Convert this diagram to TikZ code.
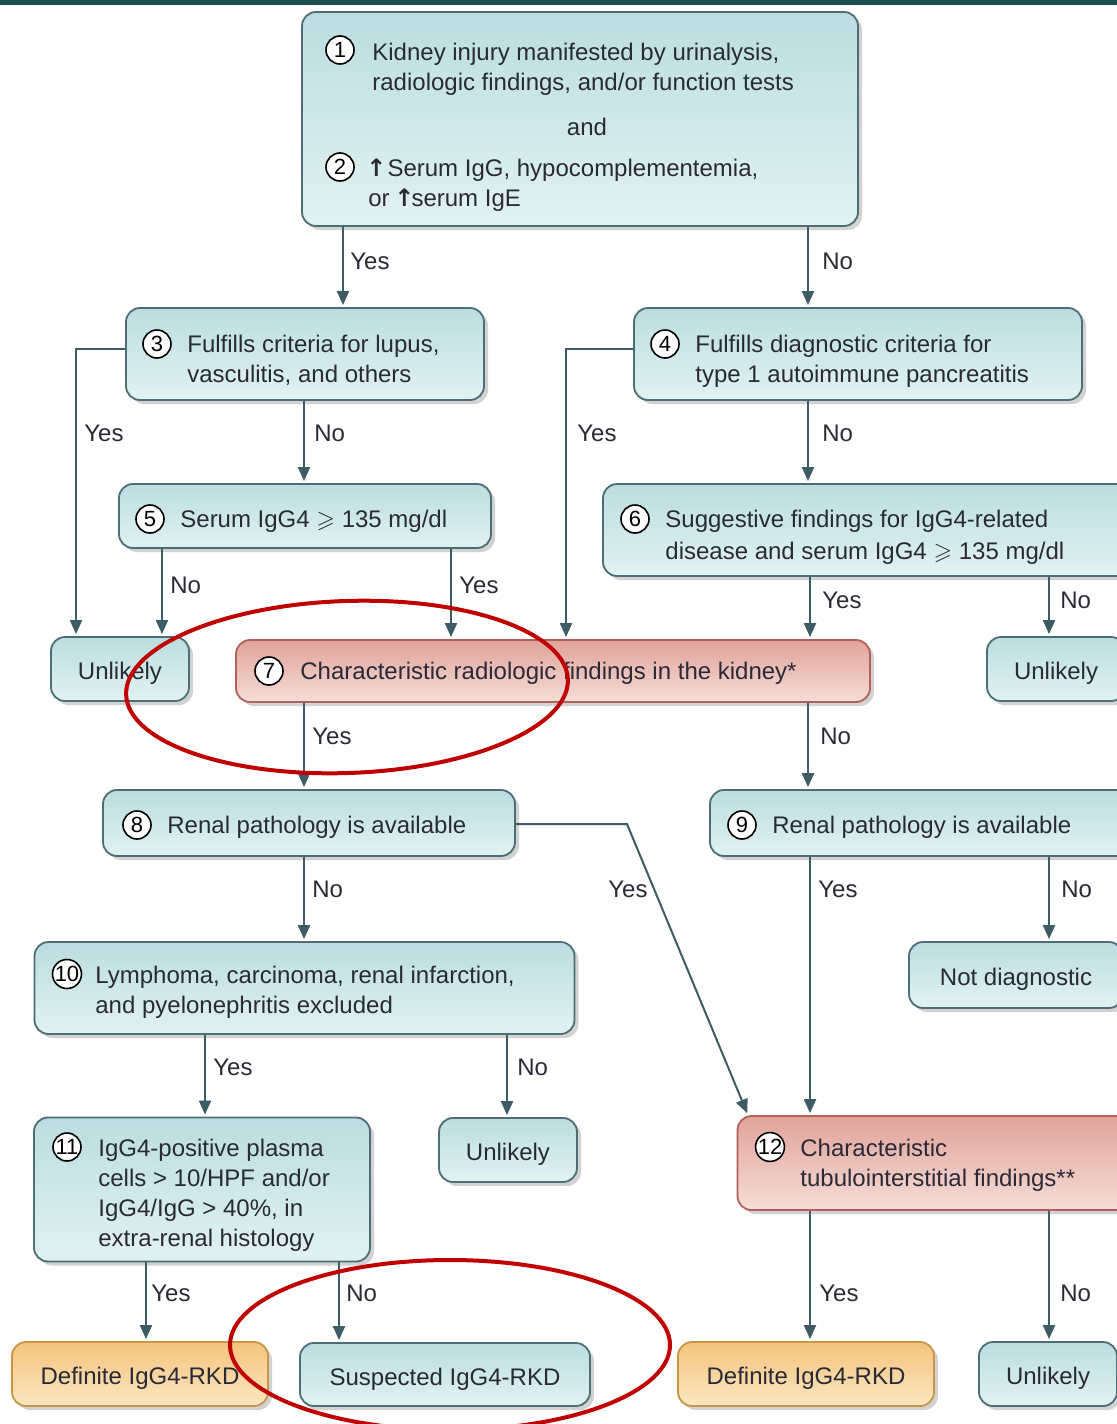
\documentclass[tikz,border=0pt]{standalone}
\usepackage{amssymb}
\usepackage{fontspec}
\setmainfont{Liberation Sans}
\newfontfamily\djv{DejaVu Sans}
\usetikzlibrary{arrows.meta,shadows}
\definecolor{barc}{HTML}{1E4D54}
\definecolor{tealtop}{HTML}{BBDDE0}
\definecolor{tealbot}{HTML}{E2F2F2}
\definecolor{tealline}{HTML}{4D6E77}
\definecolor{redtop}{HTML}{E0A39A}
\definecolor{redbot}{HTML}{F6DDD7}
\definecolor{redline}{HTML}{B0615B}
\definecolor{orgtop}{HTML}{F3C37C}
\definecolor{orgbot}{HTML}{FBE7C1}
\definecolor{orgline}{HTML}{C99548}
\definecolor{arrowc}{HTML}{3E5C66}
\definecolor{txtc}{HTML}{2A2A36}
\definecolor{ovalred}{HTML}{C00000}
\newcommand{\blk}[1]{\begin{tabular}[t]{@{}l@{}}#1\end{tabular}}
\newcommand{\uparr}{{\djv\bfseries\kern-1pt↑\kern-1.5pt}}
\tikzset{
  box/.style={rounded corners=7pt, line width=0.9pt, inner sep=0pt,
    drop shadow={shadow xshift=2pt, shadow yshift=-2pt, opacity=0.35},
    text=txtc, font=\fontsize{12}{15}\selectfont},
  tealbox/.style={box, draw=tealline, top color=tealtop, bottom color=tealbot},
  redbox/.style={box, draw=redline, top color=redtop, bottom color=redbot},
  orgbox/.style={box, draw=orgline, top color=orgtop, bottom color=orgbot},
  single/.style={text height=10.6pt, text depth=0pt},
  num/.style={circle, draw=black, line width=0.8pt, fill=white, minimum size=14pt,
    inner sep=0pt, font=\fontsize{11}{11}\selectfont, text=black},
  tnode/.style={anchor=base west, inner sep=0pt, text=txtc, font=\fontsize{12}{15}\selectfont},
  lab/.style={anchor=west, inner sep=0pt, text=txtc, font=\fontsize{12}{15}\selectfont},
  arr/.style={draw=arrowc, line width=1pt, -{Triangle[length=7pt,width=6pt]}, shorten >=1pt},
  oval/.style={draw=ovalred, line width=2pt}
}
\begin{document}
\begin{tikzpicture}[x=0.5pt,y=-0.5pt]
\useasboundingbox (0,0) rectangle (1117,1424);
\fill[white] (0,0) rectangle (1117,1424);
\fill[barc] (0,0) rectangle (1117,5);

% boxes
\node[tealbox, minimum width=278pt, minimum height=107pt] (b1) at (580,119) {};
\node[tealbox, minimum width=179pt, minimum height=46pt] (b3) at (305,354) {};
\node[tealbox, minimum width=224pt, minimum height=46pt] (b4) at (858,354) {};
\node[tealbox, minimum width=186pt, minimum height=32pt] (b5) at (305,516) {};
\node[tealbox, minimum width=268pt, minimum height=46pt] (b6) at (871,530) {};
\node[tealbox, single, minimum width=69pt, minimum height=32pt] (u1) at (120,669) {Unlikely};
\node[redbox, minimum width=317pt, minimum height=31pt] (b7) at (553,671) {};
\node[tealbox, single, minimum width=69pt, minimum height=32pt] (u2) at (1056,669) {Unlikely};
\node[tealbox, minimum width=206pt, minimum height=33pt] (b8) at (309,823) {};
\node[tealbox, minimum width=215pt, minimum height=33pt] (b9) at (925,823) {};
\node[tealbox, minimum width=270pt, minimum height=46pt] (b10) at (304.5,988) {};
\node[tealbox, single, minimum width=107pt, minimum height=33pt] (nd) at (1016,975) {Not diagnostic};
\node[tealbox, minimum width=168pt, minimum height=72pt] (b11) at (202,1189.5) {};
\node[tealbox, single, minimum width=69pt, minimum height=32pt] (u3) at (508,1150) {Unlikely};
\node[redbox, minimum width=201pt, minimum height=47pt] (b12) at (938.5,1163) {};
\node[orgbox, single, minimum width=128pt, minimum height=32pt] (d1) at (140,1374) {Definite IgG4-RKD};
\node[tealbox, single, minimum width=145pt, minimum height=31.5pt] (s1) at (445,1374.5) {Suspected IgG4-RKD};
\node[orgbox, single, minimum width=128pt, minimum height=32pt] (d2) at (806,1374) {Definite IgG4-RKD};
\node[tealbox, single, minimum width=69pt, minimum height=32pt] (u4) at (1048,1374) {Unlikely};

% texts
\node[num] (c1) at (340,50) {1};
\node[tnode] (t1) at (372,60) {\blk{Kidney injury manifested by urinalysis,\\radiologic findings, and/or function tests}};
\node[tnode, anchor=base] (tand) at (587,135) {and};
\node[num] (c2) at (340,167) {2};
\node[tnode] (t2) at (368,176) {\blk{\uparr\,Serum IgG, hypocomplementemia,\\or \uparr serum IgE}};
\node[num] (c3) at (157,344) {3};
\node[tnode] (t3) at (187,352) {\blk{Fulfills criteria for lupus,\\vasculitis, and others}};
\node[num] (c4) at (665,344) {4};
\node[tnode] (t4) at (695,352) {\blk{Fulfills diagnostic criteria for\\type 1 autoimmune pancreatitis}};
\node[num] (c5) at (150,519) {5};
\node[tnode] (t5) at (180,527) {Serum IgG4 $\geqslant$ 135 mg/dl};
\node[num] (c6) at (635,519) {6};
\node[tnode] (t6) at (665,527) {\blk{Suggestive findings for IgG4-related\\[1pt]disease and serum IgG4 $\geqslant$ 135 mg/dl}};
\node[num] (c7) at (269,671) {7};
\node[tnode] (t7) at (300,679) {Characteristic radiologic findings in the kidney*};
\node[num] (c8) at (137,825) {8};
\node[tnode] (t8) at (167,833) {Renal pathology is available};
\node[num] (c9) at (742,825) {9};
\node[tnode] (t9) at (772,833) {Renal pathology is available};
\node[num] (c10) at (67,974) {10};
\node[tnode] (t10) at (95,983) {\blk{Lymphoma, carcinoma, renal infarction,\\and pyelonephritis excluded}};
\node[num] (c11) at (67,1147) {11};
\node[tnode] (t11) at (98,1156) {\blk{IgG4-positive plasma\\cells > 10/HPF and/or\\IgG4/IgG > 40\%, in\\extra-renal histology}};
\node[num] (c12) at (770,1147) {12};
\node[tnode] (t12) at (800,1156) {\blk{Characteristic\\tubulointerstitial findings**}};

% connectors
\draw[arr] (343,0 |- b1.south) -- (343,0 |- b3.north);
\node[lab] (l1) at (350,261) {Yes};
\draw[arr] (808,0 |- b1.south) -- (808,0 |- b4.north);
\node[lab] (l2) at (822,261) {No};
\draw[arr] (b3.west |- 0,349) -| (76,0 |- u1.north);
\node[lab] (l3) at (84,433) {Yes};
\draw[arr] (304,0 |- b3.south) -- (304,0 |- b5.north);
\node[lab] (l4) at (314,433) {No};
\draw[arr] (b4.west |- 0,349) -| (566,0 |- b7.north);
\node[lab] (l5) at (577,433) {Yes};
\draw[arr] (808,0 |- b4.south) -- (808,0 |- b6.north);
\node[lab] (l6) at (822,433) {No};
\draw[arr] (162,0 |- b5.south) -- (162,0 |- u1.north);
\node[lab] (l7) at (170,585) {No};
\draw[arr] (451,0 |- b5.south) -- (451,0 |- b7.north);
\node[lab] (l8) at (459,585) {Yes};
\draw[arr] (810,0 |- b6.south) -- (810,0 |- b7.north);
\node[lab] (l9) at (822,600) {Yes};
\draw[arr] (1049,0 |- b6.south) -- (1049,0 |- u2.north);
\node[lab] (l10) at (1060,600) {No};
\draw[arr] (304,0 |- b7.south) -- (304,0 |- b8.north);
\node[lab] (l11) at (312,736) {Yes};
\draw[arr] (808,0 |- b7.south) -- (808,0 |- b9.north);
\node[lab] (l12) at (820,736) {No};
\draw[arr] (b8.east |- 0,824) -- (627,824) -- (748,0 |- b12.north);
\node[lab] (l13) at (608,889) {Yes};
\draw[arr] (304,0 |- b8.south) -- (304,0 |- b10.north);
\node[lab] (l14) at (312,889) {No};
\draw[arr] (810,0 |- b9.south) -- (810,0 |- b12.north);
\node[lab] (l15) at (818,889) {Yes};
\draw[arr] (1049,0 |- b9.south) -- (1049,0 |- nd.north);
\node[lab] (l16) at (1061,889) {No};
\draw[arr] (205,0 |- b10.south) -- (205,0 |- b11.north);
\node[lab] (l17) at (213,1067) {Yes};
\draw[arr] (507,0 |- b10.south) -- (507,0 |- u3.north);
\node[lab] (l18) at (517,1067) {No};
\draw[arr] (146,0 |- b11.south) -- (146,0 |- d1.north);
\node[lab] (l19) at (151,1293) {Yes};
\draw[arr] (339,0 |- b11.south) -- (339,0 |- s1.north);
\node[lab] (l20) at (346,1293) {No};
\draw[arr] (810,0 |- b12.south) -- (810,0 |- d2.north);
\node[lab] (l21) at (819,1293) {Yes};
\draw[arr] (1049,0 |- b12.south) -- (1049,0 |- u4.north);
\node[lab] (l22) at (1060,1293) {No};

% red ovals
\draw[oval, rotate around={2:(347,687)}] (347,687) ellipse [x radius=221, y radius=86];
\draw[oval] (450,1345) ellipse [x radius=220, y radius=85];
\end{tikzpicture}
\end{document}
